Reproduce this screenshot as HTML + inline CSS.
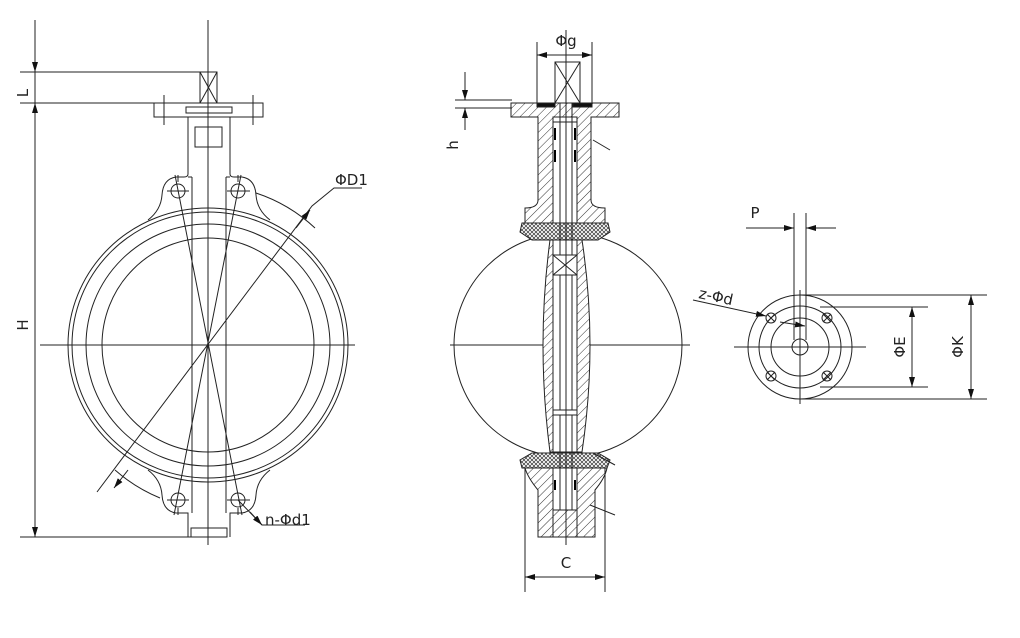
<!DOCTYPE html>
<html><head><meta charset="utf-8"><style>
html,body{margin:0;padding:0;background:#fff;}
svg{display:block;}
text{font-family:"DejaVu Sans","Liberation Sans",sans-serif;fill:#222;font-size:15px;}
</style></head><body>
<svg width="1020" height="638" viewBox="0 0 1020 638" xmlns="http://www.w3.org/2000/svg">
<defs>
<pattern id="h" width="6" height="6" patternUnits="userSpaceOnUse" patternTransform="rotate(45)">
<rect width="6" height="6" fill="#fff"/><line x1="0" y1="0" x2="0" y2="6" stroke="#333" stroke-width="1"/></pattern>
<pattern id="x" width="4" height="4" patternUnits="userSpaceOnUse">
<rect width="4" height="4" fill="#fff"/><path d="M0 0L4 4M4 0L0 4" stroke="#333" stroke-width="0.7"/></pattern>
<marker id="a" markerWidth="10" markerHeight="6" refX="10" refY="3" orient="auto" markerUnits="userSpaceOnUse"><path d="M0 0L10 3L0 6z" fill="#111"/></marker>
</defs>
<g stroke="#222" stroke-width="1" fill="none">
<!-- LEFT VIEW -->
<line x1="208" y1="20" x2="208" y2="545"/>
<line x1="40" y1="345" x2="355" y2="345"/>
<ellipse cx="208" cy="345" rx="140" ry="137"/>
<ellipse cx="208" cy="345" rx="136" ry="133"/>
<ellipse cx="208" cy="345" rx="122" ry="121"/>
<ellipse cx="208" cy="345" rx="106" ry="107"/>
<rect x="200" y="72" width="17" height="31"/>
<path d="M200 72L217 103M217 72L200 103"/>
<rect x="154" y="103" width="109" height="14"/>
<rect x="186" y="107" width="46" height="6"/>
<line x1="164" y1="95" x2="164" y2="125"/><line x1="253" y1="95" x2="253" y2="125"/>
<rect x="195" y="127" width="27" height="20"/>
<path d="M188 117V174Q188 177 184 177H176Q163 179 162 195Q161 210 148 220"/>
<path d="M230 117V174Q230 177 234 177H242Q255 179 256 195Q257 210 270 220"/>
<path d="M192 177V513M226 177V513"/>
<path d="M188 177H192M226 177H230"/>
<path d="M148 470Q161 480 162 495Q163 511 176 513H188V537M270 470Q257 480 256 495Q255 511 242 513H230V537"/>
<rect x="191" y="528" width="36" height="9"/>
<circle cx="178" cy="191" r="7"/><circle cx="238" cy="191" r="7"/>
<circle cx="178" cy="500" r="7"/><circle cx="238" cy="500" r="7"/>
<path d="M167 191H189M178 175V182M227 191H250M238 175V182M167 500H189M227 500H250M178 508V515M238 508V515"/>
<path d="M175 175L242 515M241 175L174 515"/>
<path d="M97 492L312 206L334 188H362"/>
<path d="M256 193A160 160 0 0 1 315 228"/>
<path d="M160 498A160 160 0 0 1 115 470"/>
<path d="M296 228L310 210" marker-end="url(#a)"/>
<path d="M128 470L114 488" marker-end="url(#a)"/>
<path d="M238 500L262 525H305"/>
<path d="M250 512L262 525" marker-end="url(#a)"/>
<line x1="35" y1="20" x2="35" y2="537"/>
<line x1="20" y1="72" x2="200" y2="72"/>
<line x1="20" y1="103" x2="154" y2="103"/>
<line x1="20" y1="537" x2="200" y2="537"/>
<path d="M35 50V72" marker-end="url(#a)"/>
<path d="M35 125V103" marker-end="url(#a)"/>
<path d="M35 510V537" marker-end="url(#a)"/>

<!-- MIDDLE VIEW -->
<ellipse cx="568" cy="345" rx="114" ry="112"/>
<line x1="450" y1="345" x2="690" y2="345"/>
<path d="M511 103H619V117H591V200Q591 208 605 208V223H525V208Q538 208 538 200V117H511Z" fill="url(#h)"/>
<rect x="553" y="117" width="24" height="420" fill="#fff"/>
<path d="M537 103H555V107H537ZM573 103H592V107H573Z" fill="#111"/>
<path d="M522 223H608L610 232L598 240H532L520 232Z" fill="url(#x)"/>
<path d="M550 240Q536 345 550 452H582Q598 345 582 240Z" fill="url(#h)"/>
<rect x="553" y="240" width="24" height="212" fill="#fff"/>
<path d="M553 122H577M553 240H577"/>
<path d="M532 453H598L610 460L607 468H522L520 460Z" fill="url(#x)"/>
<path d="M522 468H607Q605 478 595 490V537H538V490Q528 478 525 468Z" fill="url(#h)"/>
<rect x="553" y="468" width="24" height="42" fill="#fff"/>
<path d="M553 510H577V537H553Z" fill="url(#h)"/>
<path d="M560 62V255M572 62V255M560 275V410M572 275V410M553 410H577M560 415V510M572 415V510M553 415H577"/>
<path d="M553 255L577 275M577 255L553 275M553 255H577M553 275H577"/>
<rect x="555" y="62" width="25" height="41" fill="#fff"/>
<path d="M555 62L580 103M580 62L555 103"/>
<line x1="566" y1="30" x2="566" y2="545"/>
<path d="M555 128V140M575 128V140M555 150V162M575 150V162M555 480V490M575 480V490" stroke="#000" stroke-width="2"/>
<path d="M537 42V103M592 42V103"/>
<path d="M566 55H537" marker-end="url(#a)"/><path d="M566 55H592" marker-end="url(#a)"/>
<line x1="455" y1="100" x2="512" y2="100"/><line x1="455" y1="108" x2="512" y2="108"/>
<path d="M465 72V100" marker-end="url(#a)"/><path d="M465 130V108" marker-end="url(#a)"/>
<path d="M525 468V592M605 468V592"/>
<path d="M565 577H525" marker-end="url(#a)"/><path d="M565 577H605" marker-end="url(#a)"/>
<path d="M593 140L610 150M593 453L615 465M590 505L615 515"/>

<!-- RIGHT VIEW -->
<circle cx="800" cy="347" r="52"/>
<circle cx="800" cy="347" r="41"/>
<circle cx="800" cy="347" r="29"/>
<circle cx="800" cy="347" r="8"/>
<line x1="734" y1="347" x2="866" y2="347"/>
<line x1="800" y1="290" x2="800" y2="404"/>
<path d="M794 213V340M806 213V340"/>
<path d="M746 228H794" marker-end="url(#a)"/><path d="M836 228H806" marker-end="url(#a)"/>
<circle cx="771" cy="318" r="5"/><path d="M767 314L775 322M775 314L767 322"/>
<circle cx="827" cy="318" r="5"/><path d="M823 314L831 322M831 314L823 322"/>
<circle cx="771" cy="376" r="5"/><path d="M767 372L775 380M775 372L767 380"/>
<circle cx="827" cy="376" r="5"/><path d="M823 372L831 380M831 372L823 380"/>
<path d="M693 300L766 316" marker-end="url(#a)"/>
<path d="M780 322L805 326" marker-end="url(#a)"/>
<path d="M800 295H987M800 399H987M820 307H928M820 387H928"/>
<path d="M912 347V307" marker-end="url(#a)"/><path d="M912 347V387" marker-end="url(#a)"/>
<path d="M971 347V295" marker-end="url(#a)"/><path d="M971 347V399" marker-end="url(#a)"/>
</g>
<text x="335" y="185">ΦD1</text>
<text x="265" y="525">n-Φd1</text>
<text x="28" y="93" transform="rotate(-90 28 93)" text-anchor="middle">L</text>
<text x="28" y="325" transform="rotate(-90 28 325)" text-anchor="middle">H</text>
<text x="566" y="46" text-anchor="middle">Φg</text>
<text x="458" y="145" transform="rotate(-90 458 145)" text-anchor="middle">h</text>
<text x="566" y="568" text-anchor="middle">C</text>
<text x="755" y="218" text-anchor="middle">P</text>
<text x="698" y="298" transform="rotate(12 698 298)">z-Φd</text>
<text x="905" y="347" transform="rotate(-90 905 347)" text-anchor="middle">ΦE</text>
<text x="963" y="347" transform="rotate(-90 963 347)" text-anchor="middle">ΦK</text>
</svg>
</body></html>
